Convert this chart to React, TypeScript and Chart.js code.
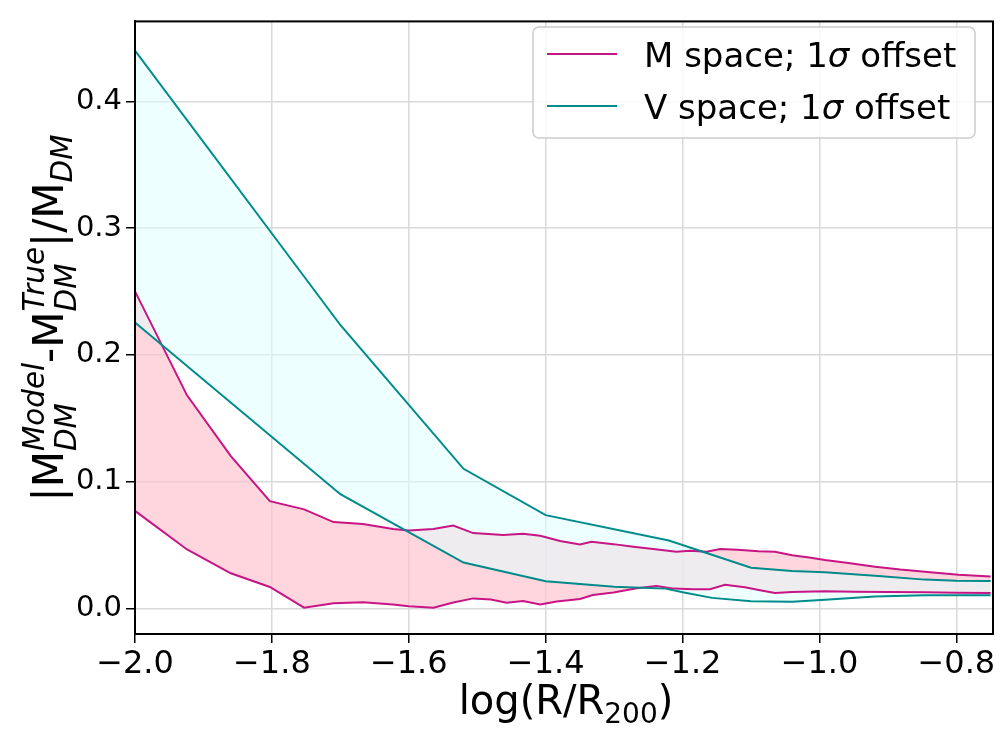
import React, { useEffect, useRef } from 'react';
import { Chart, registerables } from 'chart.js';
Chart.register(...registerables);

// ---- data ----
const mUpperX = [-2.0, -1.924, -1.86, -1.803, -1.753, -1.71, -1.667, -1.623, -1.6, -1.564, -1.535, -1.506, -1.462, -1.433, -1.408, -1.379, -1.35, -1.333, -1.301, -1.272, -1.243, -1.209, -1.189, -1.165, -1.145, -1.12, -1.089, -1.065, -1.04, -1.015, -0.992, -0.955, -0.919, -0.882, -0.846, -0.797, -0.75];
const mUpperY = [0.25, 0.168, 0.12, 0.0845, 0.078, 0.068, 0.0665, 0.0626, 0.0613, 0.0626, 0.0652, 0.0593, 0.0578, 0.0588, 0.0572, 0.0531, 0.0503, 0.0524, 0.0506, 0.0485, 0.0467, 0.0446, 0.0454, 0.0446, 0.0467, 0.0462, 0.045, 0.0445, 0.0418, 0.04, 0.038, 0.0355, 0.0327, 0.0305, 0.0289, 0.0265, 0.025];
const mLowerX = [-2.0, -1.924, -1.86, -1.803, -1.753, -1.71, -1.667, -1.623, -1.6, -1.564, -1.535, -1.506, -1.48, -1.457, -1.433, -1.408, -1.384, -1.35, -1.331, -1.301, -1.267, -1.238, -1.213, -1.184, -1.16, -1.138, -1.109, -1.085, -1.065, -1.04, -0.992, -0.95, -0.9, -0.846, -0.8, -0.75];
const mLowerY = [0.0768, 0.0464, 0.0276, 0.0168, 0.0005, 0.0039, 0.0048, 0.003, 0.0015, 0.0005, 0.0046, 0.0078, 0.007, 0.0044, 0.0058, 0.0029, 0.0054, 0.0073, 0.0104, 0.0124, 0.0158, 0.0176, 0.0155, 0.015, 0.015, 0.0185, 0.0165, 0.014, 0.0121, 0.0129, 0.0134, 0.013, 0.0128, 0.0126, 0.0122, 0.0121];
const vUpperX = [-2.0, -1.7, -1.52, -1.4, -1.22, -1.1, -1.04, -0.992, -0.914, -0.846, -0.8, -0.75];
const vUpperY = [0.44, 0.2235, 0.11, 0.0735, 0.0535, 0.032, 0.0294, 0.0284, 0.0255, 0.0226, 0.0218, 0.0216];
const vLowerX = [-2.0, -1.7, -1.52, -1.4, -1.3, -1.225, -1.198, -1.157, -1.1, -1.04, -0.992, -0.919, -0.846, -0.75];
const vLowerY = [0.2255, 0.09, 0.0361, 0.0214, 0.017, 0.0155, 0.0124, 0.0082, 0.0055, 0.0052, 0.0068, 0.0093, 0.0102, 0.0103];

const xTicks = [-2.0, -1.8, -1.6, -1.4, -1.2, -1.0, -0.8];
const yTicks = [0.0, 0.1, 0.2, 0.3, 0.4];
const seriesLabels = ['M space; 1σ offset', 'V space; 1σ offset'];

const MAGENTA = '#c71585';
const TEAL = '#008b8b';
const FAM = '"DejaVu Sans", sans-serif';

const zip = (xs: number[], ys: number[]) => xs.map((x, i) => ({ x, y: ys[i] }));
const fmt = (v: number) => (v < 0 ? '\u2212' : '') + Math.abs(v).toFixed(1);

type Run = { t?: string; sub?: string; sup?: string; upright?: boolean };

function drawRuns(ctx: CanvasRenderingContext2D, runs: Run[], F: number, startX: number, y: number, measureOnly = false) {
  const s = F * 0.7;
  let x = startX;
  for (const r of runs) {
    if (r.t) {
      ctx.font = `${F}px ${FAM}`;
      if (!measureOnly) ctx.fillText(r.t, x, y);
      x += ctx.measureText(r.t).width;
    } else {
      ctx.font = `${r.upright ? '' : 'italic '}${s}px ${FAM}`;
      let w = 0;
      if (r.sub !== undefined) {
        const dy = r.sup !== undefined ? 0.3 * F : 0.22 * F;
        if (!measureOnly) ctx.fillText(r.sub, x, y + dy);
        w = Math.max(w, ctx.measureText(r.sub).width);
      }
      if (r.sup !== undefined) {
        if (!measureOnly) ctx.fillText(r.sup, x, y - 0.45 * F);
        w = Math.max(w, ctx.measureText(r.sup).width);
      }
      x += w;
    }
  }
  return x - startX;
}

const decorPlugin = {
  id: 'decor',
  afterDatasetsDraw(chart: any) {
    const { ctx, chartArea: a } = chart;
    ctx.save();
    ctx.strokeStyle = '#000';
    ctx.lineWidth = 2;
    ctx.strokeRect(a.left, a.top, a.right - a.left, a.bottom - a.top);
    ctx.restore();
  },
  afterDraw(chart: any) {
    const ctx: CanvasRenderingContext2D = chart.ctx;
    ctx.save();
    ctx.fillStyle = '#000';
    ctx.textBaseline = 'alphabetic';
    ctx.textAlign = 'left';

    // x title
    const xr: Run[] = [{ t: 'log(R/R' }, { sub: '200', upright: true }, { t: ')' }];
    const FX = 40;
    const xw = drawRuns(ctx, xr, FX, 0, 0, true);
    drawRuns(ctx, xr, FX, 566 - xw / 2, 714);

    // y title (rotated)
    const yr: Run[] = [
      { t: '|M' }, { sub: 'DM', sup: 'Model' }, { t: '-M' }, { sub: 'DM', sup: 'True' }, { t: '|/M' }, { sub: 'DM' },
    ];
    const FY = 42;
    const yw = drawRuns(ctx, yr, FY, 0, 0, true);
    ctx.save();
    ctx.translate(63, 318);
    ctx.rotate(-Math.PI / 2);
    drawRuns(ctx, yr, FY, -yw / 2, 0);
    ctx.restore();

    // legend
    const bx = 533, by = 27, bw = 442, bh = 111;
    ctx.beginPath();
    ctx.roundRect(bx, by, bw, bh, 6);
    ctx.fillStyle = 'rgba(255,255,255,0.8)';
    ctx.fill();
    ctx.strokeStyle = '#cccccc';
    ctx.lineWidth = 1.5;
    ctx.stroke();
    const colors = [MAGENTA, TEAL];
    const ys = [54, 106];
    const FL = 34;
    seriesLabels.forEach((lab, i) => {
      ctx.beginPath();
      ctx.moveTo(547, ys[i]);
      ctx.lineTo(617, ys[i]);
      ctx.strokeStyle = colors[i];
      ctx.lineWidth = 2;
      ctx.stroke();
      ctx.fillStyle = '#000';
      const parts = lab.split('σ');
      let x = 644;
      const base = ys[i] + 13;
      ctx.font = `${FL}px ${FAM}`;
      ctx.fillText(parts[0], x, base);
      x += ctx.measureText(parts[0]).width;
      ctx.font = `italic ${FL}px ${FAM}`;
      ctx.fillText('σ', x, base);
      x += ctx.measureText('σ').width;
      ctx.font = `${FL}px ${FAM}`;
      ctx.fillText(parts[1], x, base);
    });
    ctx.restore();
  },
};

export default function App() {
  const ref = useRef<HTMLCanvasElement>(null);
  useEffect(() => {
    if (!ref.current) return;
    const chart = new Chart(ref.current, {
      type: 'line',
      data: {
        datasets: [
          { label: seriesLabels[1], data: zip(vUpperX, vUpperY), borderColor: TEAL, borderWidth: 2, pointRadius: 0, fill: '+1', backgroundColor: 'rgba(224,255,255,0.55)', tension: 0 },
          { label: 'vlow', data: zip(vLowerX, vLowerY), borderColor: TEAL, borderWidth: 2, pointRadius: 0, fill: false, tension: 0 },
          { label: seriesLabels[0], data: zip(mUpperX, mUpperY), borderColor: MAGENTA, borderWidth: 2, pointRadius: 0, fill: '+1', backgroundColor: 'rgba(255,192,203,0.65)', tension: 0 },
          { label: 'mlow', data: zip(mLowerX, mLowerY), borderColor: MAGENTA, borderWidth: 2, pointRadius: 0, fill: false, tension: 0 },
        ],
      },
      options: {
        animation: false,
        responsive: false,
        maintainAspectRatio: false,
        layout: { padding: { left: 0, right: 7, top: 9, bottom: 0 } },
        plugins: { legend: { display: false }, tooltip: { enabled: false }, filler: { drawTime: 'beforeDatasetsDraw' } },
        scales: {
          x: {
            type: 'linear',
            min: -2.0,
            max: -0.7465,
            afterBuildTicks: (s: any) => { s.ticks = xTicks.map((v) => ({ value: v })); },
            afterFit: (s: any) => { s.height = 96; },
            ticks: { font: { family: FAM, size: 32 }, color: '#000', padding: 2, maxRotation: 0, autoSkip: false, callback: (v: any) => fmt(Number(v)) },
            grid: { color: '#d9d9d9', lineWidth: 1.5, tickColor: '#000', tickLength: 9, tickWidth: 1.5 },
            border: { display: true, color: '#000', width: 2 },
          },
          y: {
            type: 'linear',
            min: -0.0203,
            max: 0.463,
            afterBuildTicks: (s: any) => { s.ticks = yTicks.map((v) => ({ value: v })); },
            afterFit: (s: any) => { s.width = 135; },
            ticks: { font: { family: FAM, size: 29 }, color: '#000', padding: 4, autoSkip: false, callback: (v: any) => fmt(Number(v)) },
            grid: { color: '#d9d9d9', lineWidth: 1.5, tickColor: '#000', tickLength: 9, tickWidth: 1.5 },
            border: { display: true, color: '#000', width: 2 },
          },
        },
      },
      plugins: [decorPlugin],
    } as any);
    return () => chart.destroy();
  }, []);
  return (
    <div style={{ position: 'fixed', left: 0, top: 0, width: 1000, height: 730, background: '#fff' }}>
      <canvas ref={ref} width={1000} height={730} style={{ width: 1000, height: 730 }} />
    </div>
  );
}
